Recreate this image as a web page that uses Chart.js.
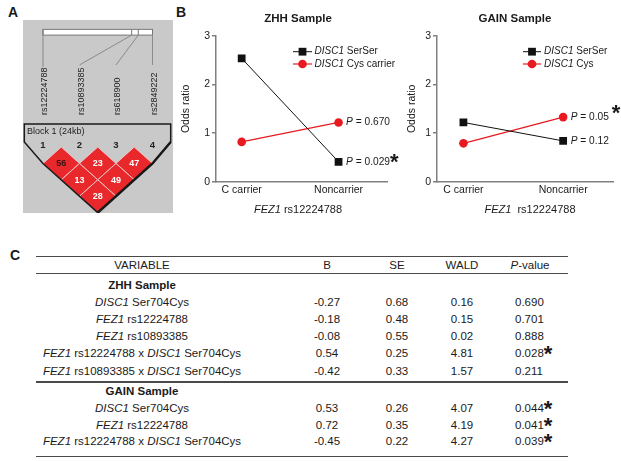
<!DOCTYPE html>
<html><head><meta charset="utf-8">
<script src="https://cdn.jsdelivr.net/npm/chart.js@4.4.1/dist/chart.umd.min.js"></script>
<style>
html,body{margin:0;padding:0;background:#fff;}
#root{position:relative;width:621px;height:461px;overflow:hidden;font-family:"Liberation Sans",Arial,Helvetica,sans-serif;color:#1a1a1a;background:#fff;}
canvas{position:absolute;}
.plbl{position:absolute;font-weight:bold;font-size:14px;line-height:14px;}
.cell{position:absolute;font-size:11.5px;line-height:14px;height:14px;white-space:nowrap;}
.ctr{text-align:center;}
.hline{position:absolute;left:36px;width:532px;height:1.5px;background:#4a4a4a;}
.star{font-weight:bold;font-size:22px;position:relative;top:4px;line-height:0;}
</style></head>
<body><div id="root">
<div class="plbl" style="left:8px;top:5px">A</div>
<div class="plbl" style="left:176px;top:5px">B</div>
<div class="plbl" style="left:10px;top:248px">C</div>
<canvas id="cA" width="150" height="193" style="left:23px;top:20px"></canvas>
<canvas id="cZ" width="220" height="230" style="left:180px;top:0px"></canvas>
<canvas id="cG" width="221" height="230" style="left:400px;top:0px"></canvas>
<div id="tbl"></div>
</div>
<script>
// ---------------- DATA ----------------
const bCategories = ['C carrier', 'Noncarrier'];
const yTicks = [0, 1, 2, 3];
const zhhSerSer = [2.54, 0.41];
const zhhCys = [0.82, 1.22];
const zhhP = ['0.029', '0.670'];
const zhhSig = [true, false];
const gainSerSer = [1.22, 0.84];
const gainCys = [0.79, 1.33];
const gainP = ['0.12', '0.05'];
const gainSig = [false, true];

const snpNames = ['rs12224788', 'rs10893385', 'rs618900', 'rs2849222'];
const snpBarFrac = [0, 0.81, 0.87, 1];
const ldPairs = [[1,2],[2,3],[3,4],[1,3],[2,4],[1,4]];
const ldValues = [56, 23, 47, 13, 49, 28];

const tableHeader = ['VARIABLE', 'B', 'SE', 'WALD', '<i>P</i>-value'];
const tableGroups = ['ZHH Sample', 'GAIN Sample'];
const tableVariables = [
  '<i>DISC1</i> Ser704Cys',
  '<i>FEZ1</i> rs12224788',
  '<i>FEZ1</i> rs10893385',
  '<i>FEZ1</i> rs12224788 x <i>DISC1</i> Ser704Cys',
  '<i>FEZ1</i> rs10893385 x <i>DISC1</i> Ser704Cys',
  '<i>DISC1</i> Ser704Cys',
  '<i>FEZ1</i> rs12224788',
  '<i>FEZ1</i> rs12224788 x <i>DISC1</i> Ser704Cys'
];
const tableGroupOf = [0,0,0,0,0,1,1,1];
const tableB = ['-0.27','-0.18','-0.08','0.54','-0.42','0.53','0.72','-0.45'];
const tableSE = ['0.68','0.48','0.55','0.25','0.33','0.26','0.35','0.22'];
const tableWald = ['0.16','0.15','0.02','4.81','1.57','4.07','4.19','4.27'];
const tableP = ['0.690','0.701','0.888','0.028','0.211','0.044','0.041','0.039'];
const tableSig = [false,false,false,true,false,true,true,true];

// ---------------- HELPERS ----------------
const FAM = '"Liberation Sans", Arial, Helvetica, sans-serif';
const RED = '#e8191f';
const AXIS = '#808080';
Chart.defaults.font.family = FAM;
function fontStr(s, size){ return (s.i?'italic ':'') + (s.b?'bold ':'') + size + 'px ' + FAM; }
function richWidth(ctx, segs, size){ let w=0; for(const s of segs){ ctx.font=fontStr(s,size); w+=ctx.measureText(s.t).width; } return w; }
function drawRich(ctx, x, y, segs, size, align){
  if(align==='center') x -= richWidth(ctx,segs,size)/2;
  for(const s of segs){ ctx.font=fontStr(s,size); ctx.fillText(s.t,x,y); x+=ctx.measureText(s.t).width; }
  return x;
}
function marker(ctx, style, x, y, color){
  ctx.fillStyle=color;
  ctx.beginPath();
  if(style==='rect'){ ctx.rect(x-3.9,y-3.9,7.8,7.8); }
  else { ctx.arc(x,y,4.3,0,Math.PI*2); }
  ctx.fill();
}

// ---------------- PANEL A ----------------
const ldPlugin = {
  id:'ld',
  beforeDraw(chart){
    const {ctx,width,height}=chart;
    ctx.save(); ctx.fillStyle='#c9c9c9'; ctx.fillRect(0,0,width,height); ctx.restore();
  },
  afterDatasetsDraw(chart){
    const {ctx, scales:{x,y}} = chart;
    const X=v=>x.getPixelForValue(v), Y=v=>y.getPixelForValue(v);
    ctx.save();
    const bx0=X(1), bx1=X(4), by0=Y(-7.17), by1=Y(-6.82);
    ctx.fillStyle='#ffffff'; ctx.fillRect(bx0,by0,bx1-bx0,by1-by0);
    ctx.strokeStyle='#777'; ctx.lineWidth=1;
    ctx.strokeRect(bx0,by0,bx1-bx0,by1-by0);
    snpBarFrac.forEach((f,k)=>{
      const px = X(1+3*f);
      ctx.beginPath(); ctx.moveTo(px,by0); ctx.lineTo(px,by1); ctx.stroke();
      ctx.beginPath(); ctx.strokeStyle='#8a8a8a';
      ctx.moveTo(px,by1); ctx.lineTo(X(k+1), Y(k===0?-4.87:-5.0)); ctx.stroke();
      ctx.strokeStyle='#777';
    });
    ctx.fillStyle='#222'; ctx.font='9px '+FAM; ctx.textAlign='left'; ctx.textBaseline='middle';
    snpNames.forEach((n,k)=>{
      ctx.save(); ctx.translate(X(k+1)+2, Y(-1.95)); ctx.rotate(-Math.PI/2);
      ctx.fillText(n,0,0); ctx.restore();
    });
    ldPairs.forEach(([i,j],k)=>{
      const cx=(i+j)/2, d=j-i;
      ctx.beginPath();
      ctx.moveTo(X(cx),Y(d-1)); ctx.lineTo(X(cx+0.5),Y(d)); ctx.lineTo(X(cx),Y(d+1)); ctx.lineTo(X(cx-0.5),Y(d)); ctx.closePath();
      ctx.fillStyle='#e8282b'; ctx.fill();
      ctx.strokeStyle='#f2c4c4'; ctx.lineWidth=1; ctx.stroke();
    });
    ctx.strokeStyle='#1a1a1a'; ctx.lineWidth=1.5; ctx.lineJoin='miter';
    ctx.beginPath();
    ctx.moveTo(X(0.488),Y(-1.40)); ctx.lineTo(X(4.499),Y(-1.40)); ctx.lineTo(X(4.499),Y(-0.305));
    ctx.lineTo(X(4),Y(1)); ctx.lineTo(X(2.5),Y(4)); ctx.lineTo(X(1),Y(1)); ctx.lineTo(X(0.488),Y(-0.305)); ctx.closePath();
    ctx.stroke();
    ctx.lineWidth=2.5;
    ctx.beginPath(); ctx.moveTo(X(4.499),Y(-0.305)); ctx.lineTo(X(4),Y(1)); ctx.lineTo(X(2.5),Y(4)); ctx.stroke();
    ctx.textAlign='center'; ctx.textBaseline='middle'; ctx.font='bold 9px '+FAM;
    ldPairs.forEach(([i,j],k)=>{
      ctx.fillStyle = ldValues[k]===56 ? '#3b1414' : '#ffffff';
      ctx.fillText(String(ldValues[k]), X((i+j)/2), Y(j-i)+0.5);
    });
    ctx.fillStyle='#222'; ctx.font='9px '+FAM; ctx.textAlign='left';
    ctx.fillText('Block 1 (24kb)', X(0.562), Y(-0.975));
    ctx.font='bold 9.5px '+FAM; ctx.textAlign='center';
    snpNames.forEach((n,k)=>ctx.fillText(String(k+1), X(k+1), Y(-0.1)));
    ctx.restore();
  }
};
new Chart(document.getElementById('cA'), {
  type:'scatter',
  data:{datasets:[{data: ldPairs.map(([i,j])=>({x:(i+j)/2, y:j-i})), pointRadius:0}]},
  options:{responsive:false, animation:false, devicePixelRatio:1, layout:{padding:0},
    plugins:{legend:{display:false}, tooltip:{enabled:false}},
    scales:{x:{type:'linear',display:false,min:0.452,max:4.562}, y:{type:'linear',display:false,reverse:true,min:-7.74,max:4.02}}},
  plugins:[ldPlugin]
});

// ---------------- PANEL B ----------------
function bDecor(opt){
  return { id:'bdecor', afterDraw(chart){
    const {ctx, chartArea:ca} = chart;
    ctx.save(); ctx.fillStyle='#1a1a1a'; ctx.textBaseline='middle'; ctx.textAlign='left';
    drawRich(ctx, ca.left+opt.titleDx, 19, [{t:opt.title,b:1}], 11.5, 'center');
    drawRich(ctx, ca.left+opt.xTitleDx, 210, opt.xTitle, 11, 'center');
    chart.data.datasets.forEach((ds,k)=>{
      const ly = opt.legY[k], x0 = ca.left+opt.legX0, x1 = ca.left+opt.legX1;
      ctx.strokeStyle=ds.borderColor; ctx.lineWidth=ds.borderWidth;
      ctx.beginPath(); ctx.moveTo(x0,ly); ctx.lineTo(x1,ly); ctx.stroke();
      marker(ctx, ds.pointStyle, (x0+x1)/2, ly, ds.borderColor);
      ctx.fillStyle='#1a1a1a';
      drawRich(ctx, ca.left+opt.legTextDx, ly, [{t:'DISC1',i:1},{t:' '+opt.legText[k]}], 10);
    });
    chart.data.datasets.forEach((ds,k)=>{
      const meta = chart.getDatasetMeta(k);
      const pt = meta.data[meta.data.length-1];
      ctx.fillStyle='#1a1a1a'; ctx.textBaseline='middle';
      const ex = drawRich(ctx, pt.x+7.5, pt.y, [{t:'P',i:1},{t:' = '+opt.pvals[k]}], 10.2);
      if(opt.sig[k]){
        ctx.font='bold 22px '+FAM; ctx.textBaseline='alphabetic';
        ctx.fillText('*', ex+opt.starGap, pt.y+opt.starDy);
      }
    });
    ctx.restore();
  }};
}
function makeB(id, serSer, cys, opt){
  new Chart(document.getElementById(id), {
    type:'line',
    data:{datasets:[
      {label:'SerSer', data: serSer.map((v,i)=>({x:i,y:v})), borderColor:'#111111', backgroundColor:'#111111', borderWidth:1, pointStyle:'rect', pointRadius:5.5, pointBorderWidth:0, pointHoverRadius:5.5},
      {label:'Cys', data: cys.map((v,i)=>({x:i,y:v})), borderColor:RED, backgroundColor:RED, borderWidth:1.2, pointStyle:'circle', pointRadius:4.3, pointBorderWidth:0, pointHoverRadius:4.3}
    ]},
    options:{responsive:false, animation:false, devicePixelRatio:1,
      layout:{padding:{left:opt.padL, right:opt.padR, top:36, bottom:28.3}},
      plugins:{legend:{display:false}, tooltip:{enabled:false}, title:{display:false}},
      scales:{
        x:{type:'linear', min:-0.265, max:1.5,
          afterBuildTicks:s=>{ s.ticks = bCategories.map((c,i)=>({value:i})); },
          ticks:{callback:v=>bCategories[v], font:{size:10.5}, color:'#1a1a1a', padding:2, maxRotation:0, autoSkip:false},
          grid:{display:false, drawTicks:false},
          border:{display:true, color:AXIS, width:1.5},
          afterFit:s=>{ s.height=20; }},
        y:{type:'linear', min:0, max:3,
          afterBuildTicks:s=>{ s.ticks = yTicks.map(v=>({value:v})); },
          ticks:{font:{size:10.5}, color:'#1a1a1a', padding:2},
          grid:{display:true, drawOnChartArea:false, drawTicks:true, tickLength:4, color:AXIS, lineWidth:1.5},
          border:{display:true, color:AXIS, width:1.5},
          title:{display:true, text:'Odds ratio', font:{size:10.5}, color:'#1a1a1a', padding:0},
          afterFit:s=>{ s.width=opt.yw; }}
      }},
    plugins:[bDecor(opt)]
  });
}
makeB('cZ', zhhSerSer, zhhCys, {padL:0, padR:13, yw:36, title:'ZHH Sample', titleDx:82,
  xTitle:[{t:'FEZ1',i:1},{t:' rs12224788'}], xTitleDx:82,
  legY:[51.7,64], legX0:77, legX1:96, legTextDx:98.5, legText:['SerSer','Cys carrier'],
  pvals:zhhP, sig:zhhSig, starGap:0, starDy:7.7});
makeB('cG', gainSerSer, gainCys, {padL:6, padR:8, yw:31, title:'GAIN Sample', titleDx:78,
  xTitle:[{t:'FEZ1',i:1},{t:'  rs12224788'}], xTitleDx:93,
  legY:[51.7,64], legX0:86, legX1:104, legTextDx:107, legText:['SerSer','Cys'],
  pvals:gainP, sig:gainSig, starGap:3, starDy:2.5});

// ---------------- PANEL C (table) ----------------
(function(){
  const t = document.getElementById('tbl');
  let h='';
  const lines=[255.5,272.5,381,455.5];
  lines.forEach(y=>{ h+=`<div class="hline" style="top:${y}px"></div>`; });
  const colX=[142,327,397,462,530];
  const cell=(cx,yc,html,extra)=>`<div class="cell ctr" style="left:${cx-130}px;width:260px;top:${yc-7}px;${extra||''}">${html}</div>`;
  tableHeader.forEach((hd,k)=>{ h+=cell(colX[k],265,hd); });
  const groupY=[285,391];
  tableGroups.forEach((g,k)=>{ h+=cell(colX[0],groupY[k],g,'font-weight:bold;'); });
  const rowY=[302,319,336,353,370.5,408,424.5,441];
  tableVariables.forEach((v,k)=>{
    const yc=rowY[k];
    h+=cell(colX[0],yc,v);
    h+=cell(colX[1],yc,tableB[k]);
    h+=cell(colX[2],yc,tableSE[k]);
    h+=cell(colX[3],yc,tableWald[k]);
    h+=`<div class="cell" style="left:515px;top:${yc-7}px">${tableP[k]}${tableSig[k]?'<span class="star">*</span>':''}</div>`;
  });
  t.innerHTML=h;
})();
</script>
</body></html>
